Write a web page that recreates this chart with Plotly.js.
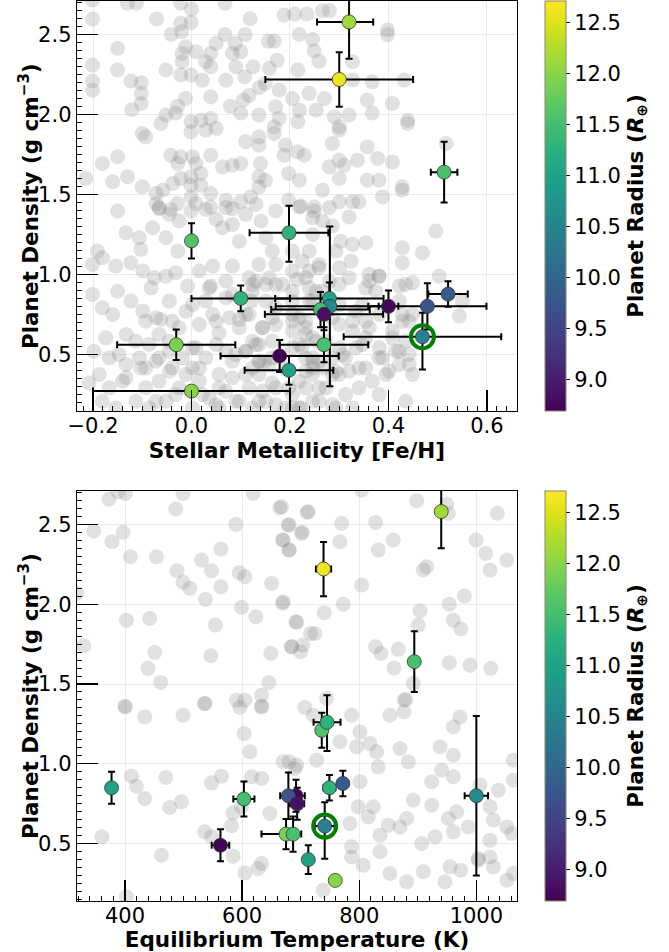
<!DOCTYPE html>
<html>
<head>
<meta charset="utf-8">
<script src="https://cdn.plot.ly/plotly-3.0.1.min.js"></script>
<style>html,body{margin:0;padding:0;background:#fff;}#chart{width:669px;height:952px;}</style>
</head>
<body>
<div id="chart"></div>
<script>
// ---------- highlighted sample planets ----------
const planetNames = ["P1","P2","P3","P4","P5","P6","P7","P8","P9","P10","P11","P12","P13","P14","P15","P16","P17","P18","P19"];
const feh      = [0.320, 0.300, 0.513, 0.000, 0.198, 0.100, 0.280, 0.400, 0.479, 0.281, 0.521, 0.469, 0.179, 0.198, -0.031, 0.000, 0.269, 0.262, 0.269];
const fehErrLo = [0.065, 0.150, 0.027, 0.000, 0.080, 0.100, 0.110, 0.020, 0.120, 0.110, 0.040, 0.160, 0.120, 0.090, 0.120, 0.200, 0.090, 0.100, 0.120];
const fehErrHi = [0.049, 0.150, 0.027, 0.000, 0.080, 0.100, 0.110, 0.020, 0.120, 0.110, 0.040, 0.160, 0.120, 0.090, 0.120, 0.200, 0.090, 0.100, 0.120];
const teq      = [940, 739, 894, 736, 745, 749, 377, 692, 679, 1000, 772, 741, 563, 713, 675, 759, 687, 603, 694];
const teqErrLo = [0, 13, 0, 0, 23, 10, 0, 15, 14, 20, 0, 17, 15, 0, 42, 0, 14, 18, 12];
const teqErrHi = [0, 13, 0, 0, 23, 10, 0, 15, 14, 20, 0, 17, 15, 0, 12, 0, 14, 18, 12];
const rho      = [2.58, 2.22, 1.64, 1.21, 1.26, 0.85, 0.85, 0.80, 0.80, 0.80, 0.877, 0.61, 0.49, 0.40, 0.56, 0.27, 0.56, 0.78, 0.75];
const rhoErrLo = [0.23, 0.17, 0.19, 0.11, 0.18, 0.08, 0.10, 0.10, 0.145, 0.50, 0.08, 0.205, 0.10, 0.09, 0.095, 0.02, 0.11, 0.11, 0.10];
const rhoErrHi = [0.23, 0.17, 0.19, 0.11, 0.17, 0.08, 0.10, 0.10, 0.145, 0.50, 0.08, 0.15, 0.10, 0.09, 0.095, 0.02, 0.11, 0.11, 0.10];
const radius   = [12.15, 12.60, 11.55, 11.60, 11.30, 11.30, 11.00, 8.75, 9.75, 10.60, 9.85, 10.45, 8.70, 11.00, 11.90, 12.00, 11.55, 11.50, 8.85];
const highlighted = "P12";

// ---------- background population (top panel: metallicity vs density) ----------
const bgFeH = [
-0.201,-0.201,-0.130,-0.112,-0.071,-0.022,0.000,0.068,0.119,0.188,0.209,0.234,0.266,0.280,-0.150,-0.201,-0.201,-0.201,-0.150,-0.123,
-0.102,-0.102,-0.102,-0.121,-0.052,-0.041,-0.022,-0.020,-0.001,0.068,0.089,0.100,0.109,0.156,0.168,0.174,0.219,0.246,0.249,0.259,
0.216,0.138,0.117,0.090,0.070,0.050,0.039,0.039,0.039,0.022,0.009,-0.012,-0.019,-0.019,-0.022,-0.001,0.029,0.079,0.100,0.083,
-0.028,-0.012,-0.001,-0.052,-0.032,0.019,0.039,0.050,0.029,-0.001,-0.062,-0.100,-0.093,-0.150,-0.181,-0.215,-0.160,-0.130,-0.100,-0.042,
-0.028,-0.022,0.002,0.009,0.019,0.039,0.063,0.083,0.100,-0.001,-0.022,-0.001,0.019,-0.038,-0.058,-0.072,-0.072,-0.065,-0.042,-0.028,
-0.001,0.009,0.039,0.039,0.070,0.083,0.100,0.120,0.137,0.137,0.150,0.140,0.110,0.137,0.137,0.168,0.168,0.178,0.191,0.188,
0.216,0.216,0.229,0.197,0.219,0.197,0.219,0.249,0.266,0.280,0.286,0.137,0.171,0.219,0.253,0.270,0.239,0.205,0.178,0.150,
0.158,0.125,0.108,0.105,
0.327,0.398,0.398,0.290,0.320,0.357,0.367,0.408,0.367,0.327,0.432,0.439,0.439,0.300,0.300,0.357,0.300,0.310,0.337,0.378,
0.408,0.300,0.357,0.381,0.388,0.428,0.428,0.300,0.327,0.340,0.517,0.320,
-0.150,-0.133,-0.106,-0.103,-0.079,-0.066,-0.052,-0.045,-0.025,-0.028,-0.001,0.029,0.050,0.063,0.070,0.083,0.097,0.110,0.131,0.141,
0.151,0.164,0.171,0.205,0.239,0.246,0.266,0.280,-0.191,-0.201,-0.181,-0.154,-0.123,-0.099,-0.076,-0.082,-0.052,-0.032,-0.008,0.016,
0.036,0.043,0.070,0.083,0.117,0.137,0.151,0.171,0.205,0.239,0.259,0.280,0.300,
-0.201,-0.181,-0.150,-0.160,-0.123,-0.099,-0.072,-0.066,-0.045,-0.039,-0.025,0.002,0.016,0.029,0.043,0.056,0.070,0.077,0.097,0.110,
0.121,0.124,0.144,0.164,0.171,0.205,0.219,0.232,0.246,0.266,0.286,-0.113,-0.086,-0.174,-0.198,-0.147,-0.133,-0.106,-0.072,-0.045,
-0.018,0.009,0.029,0.050,0.070,0.083,0.110,0.137,0.164,0.205,0.232,0.259,0.286,
-0.208,-0.187,-0.167,-0.133,-0.113,-0.093,-0.066,-0.052,-0.032,-0.011,0.016,0.036,0.056,0.083,0.097,0.117,0.137,0.151,0.171,0.205,
0.219,0.246,0.273,0.293,-0.181,-0.154,-0.086,0.002,0.056,0.124,0.191,0.219,0.016,-0.045,-0.093,0.246,0.269,
0.131,0.158,0.185,0.215,0.239,0.300,0.320,0.361,0.381,0.435,0.422,0.117,0.144,0.171,0.205,0.232,0.300,0.327,0.361,0.428,
0.449,0.110,0.137,0.225,0.307,0.334,0.381,0.415,0.442,0.124,0.158,0.232,0.320,0.354,0.401,0.449,0.205,0.347,
0.222,0.249,0.286,0.303,0.327,0.324,0.293,0.246,0.225,0.259,0.232,0.354,0.496,0.428,0.469,0.428,0.361,0.381,0.354,0.374,
0.422,0.449,0.503,0.544,0.550,0.428,0.442,0.354,0.327,0.347,0.381,0.300,0.408,0.422,0.313,0.340,0.388,0.422,0.442,0.395,
0.367,0.340,0.313,0.381,0.435,0.286,0.246,0.232,0.259,0.286,0.327,0.222,0.253,0.232,0.239,
-0.062,0.039,0.083,0.097,0.131,0.148,0.164,0.219,0.246,0.259,0.090,0.056,0.022,-0.025,-0.066,-0.103,-0.045,0.002,0.137,0.171,
0.205,0.050,0.090,0.110,0.191,0.205,0.151,0.124,0.050,-0.011,-0.093,-0.133,-0.167,-0.140,0.164,0.246,0.273,0.293,0.198,0.144,
0.070,0.002,-0.039,-0.072,
0.124,0.171,0.205,0.253,0.300,0.334,0.381,0.354,0.408,0.435,0.137,0.246,0.300
];
const bgRhoTop = [
2.598,2.717,2.697,2.697,2.598,2.697,2.660,2.697,2.600,2.623,2.630,2.630,2.650,2.650,2.415,2.310,2.210,2.153,2.279,2.210,
2.200,2.133,2.070,2.030,2.279,2.502,2.571,2.519,2.577,2.502,2.446,2.393,2.502,2.460,2.460,2.341,2.502,2.470,2.400,2.335,
2.279,2.170,2.120,2.300,2.216,2.446,2.383,2.300,2.112,2.216,2.393,2.425,2.383,2.331,2.248,2.248,2.331,2.053,2.010,2.383,
2.053,2.101,1.955,1.997,2.010,1.965,1.976,1.914,1.903,1.893,1.945,1.882,1.861,1.736,1.694,1.600,1.580,1.611,1.548,1.746,
1.694,1.736,1.736,1.694,1.632,1.746,1.673,1.683,1.694,1.611,1.600,1.558,1.558,1.569,1.527,1.506,1.443,1.412,1.406,1.443,
1.485,1.443,1.506,1.422,1.464,1.412,1.454,1.485,1.548,1.611,1.590,1.694,1.830,1.861,1.809,1.924,1.882,1.976,1.809,1.746,
1.767,1.955,1.746,1.632,1.590,1.464,1.422,1.422,1.527,1.673,1.820,1.997,2.049,2.028,2.028,2.101,2.133,2.101,2.153,2.195,
2.290,2.300,2.237,2.091,
2.331,2.530,2.500,1.986,1.997,2.091,2.010,2.070,2.205,2.216,2.216,1.965,1.945,1.924,1.903,1.798,1.715,1.683,1.715,1.725,
1.704,1.600,1.590,1.590,1.485,1.548,1.527,1.454,1.454,1.454,1.820,1.360,
1.397,1.261,1.229,1.157,1.292,1.418,1.229,1.376,1.334,1.146,1.397,1.407,1.344,1.292,1.418,1.313,1.208,1.376,1.438,1.334,
1.229,1.146,1.397,1.146,1.146,1.355,1.334,1.418,1.146,1.062,1.104,1.052,1.073,1.021,0.979,0.916,0.989,1.010,0.927,1.021,
0.916,1.052,0.958,1.052,0.979,1.062,0.937,1.062,1.021,1.021,1.062,0.958,1.042,
0.875,0.791,0.895,0.749,0.833,0.770,0.729,0.624,0.833,0.707,0.666,0.812,0.687,0.833,0.749,0.634,0.854,0.729,0.666,0.749,
0.833,0.582,0.666,0.729,0.791,0.895,0.729,0.624,0.833,0.895,0.729,0.582,0.561,0.603,0.519,0.499,0.436,0.478,0.457,0.519,
0.478,0.541,0.478,0.561,0.519,0.457,0.519,0.457,0.478,0.541,0.478,0.457,0.478,
0.321,0.374,0.290,0.353,0.206,0.290,0.332,0.206,0.248,0.374,0.332,0.227,0.290,0.353,0.206,0.290,0.374,0.206,0.290,0.248,
0.332,0.206,0.290,0.164,0.206,0.164,0.164,0.164,0.164,0.164,0.164,0.164,0.415,0.394,0.415,0.374,0.415,
0.958,0.979,0.937,0.969,0.916,0.937,0.979,0.958,0.989,0.937,0.833,0.749,0.666,0.687,0.645,0.707,0.687,0.707,0.666,0.707,
0.749,0.519,0.561,0.541,0.499,0.541,0.478,0.519,0.436,0.415,0.436,0.394,0.394,0.415,0.394,0.374,0.833,0.812,
1.428,1.397,1.303,1.208,1.188,1.083,1.146,1.250,1.083,1.042,0.979,1.198,1.271,1.167,1.136,1.073,1.000,0.989,0.916,0.895,
0.927,0.948,0.989,0.739,0.833,0.749,0.707,0.707,0.645,0.561,0.541,0.541,0.645,0.519,0.478,0.415,0.478,0.436,0.499,0.374,
0.332,0.290,0.248,0.248,0.206,0.374,0.415,0.290,0.206,0.185,0.164,0.164,0.582,0.666,0.833,
0.718,0.927,0.875,0.718,0.561,0.457,0.321,0.561,0.478,0.290,0.499,0.374,0.248,0.290,0.478,0.415,0.582,0.541,0.206,0.185,
0.164,0.185,0.206,0.374,0.415,0.707,0.833,0.937,0.707,0.770,0.707,0.624,0.478,0.332,0.582,0.603,0.582,0.394,0.290,0.269,
0.269,0.415,0.415,0.206,
0.895,0.937,0.749,0.895,0.812,0.770,0.749,0.603,0.603,0.582,0.457,0.457,0.374
];

// ---------- background population (bottom panel: equilibrium temperature vs density) ----------
const bgTeq = [
372.6,388.0,400.7,499.1,486.7,346.5,377.8,396.6,409.2,453.7,488.9,499.1,510.6,530.6,547.7,563.6,563.6,537.4,589.2,594.9,
604.6,618.8,664.4,680.3,669.0,680.3,702.6,711.1,650.2,669.0,599.0,623.4,691.8,716.9,402.4,442.2,554.5,329.4,450.8,546.5,
649.0,684.4,699.8,439.3,461.0,645.6,633.2,590.4,604.6,536.2,400.7,633.2,318.0,
667.3,678.6,701.5,712.8,769.9,670.1,680.3,767.0,804.1,828.0,832.5,858.1,898.1,949.4,952.1,999.5,1016.0,1035.9,1052.0,1023.4,
909.4,915.2,804.1,772.7,740.2,670.1,693.0,724.3,684.4,703.2,828.0,837.1,866.7,859.3,903.8,900.9,953.8,979.5,960.7,973.3,
953.8,989.2,1024.6,892.3,879.8,744.3,
399.5,433.7,499.1,536.2,596.1,633.2,603.4,613.2,680.3,690.0,410.9,419.5,433.7,469.6,476.4,496.4,547.7,564.8,584.6,599.0,
616.0,633.2,647.4,536.2,547.7,581.9,584.6,360.7,462.2,604.6,633.2,627.4,402.4,707.2,
721.4,787.0,801.2,852.5,876.4,876.6,960.7,972.1,767.0,795.6,818.3,829.7,832.5,869.6,938.0,960.7,1063.2,670.1,693.0,727.2,
801.2,883.8,940.9,923.8,960.7,1037.6,1063.2,1006.3,824.0,798.3,784.1,815.4,849.6,881.0,923.8,952.1,966.5,892.3,835.4,869.6,
906.7,929.4,960.7,986.3,1023.4,1029.0,1052.0,1023.4,1060.5,787.0,806.8,835.4,852.5,881.0,909.4,946.5,955.0,973.3,1003.4,1029.0,
1052.0,1063.2,738.5,787.0,1003.4,1023.4
];
const bgRhoBot = [
2.657,2.704,2.694,2.694,2.596,2.458,2.391,2.450,2.297,2.297,2.209,2.137,2.099,2.276,2.209,2.345,2.109,2.030,2.500,2.197,
2.172,2.694,2.604,2.496,2.402,2.339,2.450,2.575,2.130,2.005,1.980,1.921,1.890,1.817,1.900,1.911,1.869,1.740,1.698,1.677,
1.692,1.733,1.702,1.598,1.510,1.510,1.430,1.399,1.399,1.378,1.357,1.357,2.068,
2.610,2.496,2.444,2.579,2.506,2.402,2.339,2.391,2.715,2.512,2.339,2.402,2.648,2.627,2.569,2.402,2.318,2.569,2.276,2.214,
2.214,2.234,2.120,2.000,1.946,2.015,1.886,1.817,1.733,1.744,1.733,1.692,1.717,1.601,1.959,1.869,2.000,2.051,1.900,1.846,
1.633,1.618,1.598,1.504,1.403,1.410,
1.361,1.294,1.305,1.378,1.353,1.361,1.190,1.075,1.013,0.971,0.923,0.860,0.783,0.915,0.727,0.762,0.881,0.923,0.693,0.731,
0.919,0.908,0.689,0.574,0.543,0.612,0.422,0.543,0.428,0.317,0.376,0.345,0.167,1.353,
1.305,1.305,1.200,1.305,1.326,1.399,1.232,1.294,1.138,1.107,1.128,1.075,0.981,1.096,1.107,1.054,1.023,1.013,0.992,1.023,
0.888,1.013,0.961,0.888,0.919,0.835,0.898,0.867,0.731,0.731,0.627,0.668,0.616,0.658,0.741,0.658,0.700,0.773,0.553,0.605,
0.501,0.543,0.574,0.605,0.731,0.648,0.605,0.522,0.564,0.480,0.365,0.449,0.313,0.261,0.324,0.261,0.355,0.334,0.397,0.355,
0.271,0.313,0.209,0.417,0.407,0.417
];

// ---------- axis tick labels and titles ----------
const fehTicks = [-0.2, 0.0, 0.2, 0.4, 0.6];
const teqTicks = [400, 600, 800, 1000];
const rhoTicks = [0.5, 1.0, 1.5, 2.0, 2.5];
const radiusTicks = [9.0, 9.5, 10.0, 10.5, 11.0, 11.5, 12.0, 12.5];
const rhoTitle = "Planet Density (g cm<sup>−3</sup>)";
const cbTitle = "Planet Radius (<i>R</i><sub>⊕</sub>)";

const hiIdx = planetNames.indexOf(highlighted);

const FONT = "DejaVu Sans, Liberation Sans, sans-serif";
const grey = "rgba(128,128,128,0.24)";
const edge = {color: "#333333", width: 0.8};

function errBar(hi, lo) {
  return {type: "data", symmetric: false, array: hi, arrayminus: lo, color: "black", thickness: 2, width: 3.5};
}

const traces = [
  {type: "scatter", mode: "markers", x: bgFeH, y: bgRhoTop, xaxis: "x", yaxis: "y",
   marker: {size: 15, color: grey, line: {width: 0}}, hoverinfo: "skip"},
  {type: "scatter", mode: "markers", x: bgTeq, y: bgRhoBot, xaxis: "x2", yaxis: "y2",
   marker: {size: 15, color: grey, line: {width: 0}}, hoverinfo: "skip"},
  {type: "scatter", mode: "markers", x: feh, y: rho, xaxis: "x", yaxis: "y", text: planetNames,
   error_x: errBar(fehErrHi, fehErrLo), error_y: errBar(rhoErrHi, rhoErrLo),
   marker: {size: 14, color: radius, coloraxis: "coloraxis", line: edge}},
  {type: "scatter", mode: "markers", x: teq, y: rho, xaxis: "x2", yaxis: "y2", text: planetNames,
   error_x: errBar(teqErrHi, teqErrLo), error_y: errBar(rhoErrHi, rhoErrLo),
   marker: {size: 14, color: radius, coloraxis: "coloraxis2", line: edge}},
  {type: "scatter", mode: "markers", x: [feh[hiIdx]], y: [rho[hiIdx]], xaxis: "x", yaxis: "y",
   marker: {symbol: "circle-open", size: 23, color: "green", line: {width: 4, color: "green"}}, hoverinfo: "skip"},
  {type: "scatter", mode: "markers", x: [teq[hiIdx]], y: [rho[hiIdx]], xaxis: "x2", yaxis: "y2",
   marker: {symbol: "circle-open", size: 23, color: "green", line: {width: 4, color: "green"}}, hoverinfo: "skip"}
];

function baseAxis(extra) {
  return Object.assign({
    ticks: "inside", ticklen: 21, tickwidth: 1.3, tickcolor: "black",
    showline: true, mirror: true, linecolor: "black", linewidth: 1.3,
    showgrid: true, gridcolor: "#ebebeb", gridwidth: 1, zeroline: false,
    tickfont: {family: FONT, size: 21, color: "black"},
    tickformat: ".1f"
  }, extra);
}
const titleFont = {family: FONT, size: 21.5, color: "black", weight: "bold"};

function cbar(y, titleText) {
  return {
    x: 1.0636, xanchor: "left", y: y, yanchor: "middle",
    len: 0.4556, lenmode: "fraction", thickness: 21, thicknessmode: "pixels",
    xpad: 0, ypad: 0, outlinewidth: 1, outlinecolor: "#8a8a6a",
    ticks: "outside", ticklen: 4, tickwidth: 1, tickcolor: "black",
    tickmode: "array", tickvals: radiusTicks, ticktext: radiusTicks.map(v => v.toFixed(1)),
    tickfont: {family: FONT, size: 21, color: "black"},
    title: {text: titleText, side: "right", font: titleFont}
  };
}

const minorY = {tickmode: "linear", tick0: 0, dtick: 0.05, ticks: "inside", ticklen: 5, tickwidth: 1, tickcolor: "black", showgrid: false};

const layout = {
  width: 669, height: 952,
  margin: {l: 77, r: 152, t: 1, b: 51, pad: 0},
  paper_bgcolor: "white", plot_bgcolor: "white",
  showlegend: false,
  font: {family: FONT, color: "black"},
  xaxis: baseAxis({domain: [0, 1], anchor: "y", range: [-0.2325, 0.661], ticklabelstandoff: -5,
    tickmode: "array", tickvals: fehTicks, ticktext: fehTicks.map(v => (v < 0 ? "−" : "") + Math.abs(v).toFixed(1)),
    minor: {tickmode: "linear", tick0: 0, dtick: 0.02, ticks: "inside", ticklen: 5, tickwidth: 1, tickcolor: "black", showgrid: false},
    title: {text: "Stellar Metallicity [Fe/H]", font: titleFont, standoff: 0}}),
  yaxis: baseAxis({domain: [0.5444, 1], anchor: "x", range: [0.145, 2.711],
    tickmode: "array", tickvals: rhoTicks, ticktext: rhoTicks.map(v => v.toFixed(1)),
    minor: minorY}),
  xaxis2: baseAxis({domain: [0, 1], anchor: "y2", range: [318, 1069.4], ticklabelstandoff: -5,
    tickmode: "array", tickvals: teqTicks, ticktext: teqTicks.map(v => String(v)),
    minor: {tickmode: "linear", tick0: 0, dtick: 20, ticks: "inside", ticklen: 5, tickwidth: 1, tickcolor: "black", showgrid: false},
    title: {text: "Equilibrium Temperature (K)", font: titleFont, standoff: 0}}),
  yaxis2: baseAxis({domain: [0, 0.4556], anchor: "x2", range: [0.141, 2.709],
    tickmode: "array", tickvals: rhoTicks, ticktext: rhoTicks.map(v => v.toFixed(1)),
    minor: minorY}),
  coloraxis: {colorscale: "Viridis", cmin: 8.69, cmax: 12.71, colorbar: cbar(0.7722, cbTitle)},
  coloraxis2: {colorscale: "Viridis", cmin: 8.69, cmax: 12.71, colorbar: cbar(0.2278, cbTitle)},
  annotations: [
    {text: rhoTitle, xref: "paper", yref: "paper", x: -0.109, y: 0.7722, xanchor: "center", yanchor: "middle",
     textangle: -90, showarrow: false, font: titleFont},
    {text: rhoTitle, xref: "paper", yref: "paper", x: -0.109, y: 0.2278, xanchor: "center", yanchor: "middle",
     textangle: -90, showarrow: false, font: titleFont}
  ]
};

Plotly.newPlot("chart", traces, layout, {staticPlot: true, displayModeBar: false});
</script>
</body>
</html>
